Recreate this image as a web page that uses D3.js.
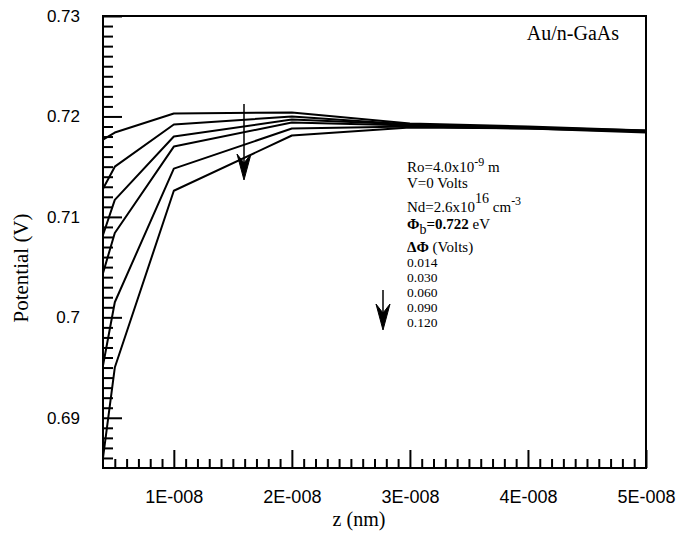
<!DOCTYPE html>
<html>
<head>
<meta charset="utf-8">
<script src="https://cdn.jsdelivr.net/npm/d3@7"></script>
<style>
  body { margin: 0; background: #fff; }
  text { fill: #000; }
</style>
</head>
<body>
<div id="chart"></div>
<script>
// data
const zValues = [4e-9, 5e-9, 1e-8, 2e-8, 3e-8, 4e-8, 5e-8];
const curve1 = [0.7177, 0.7184, 0.7203, 0.7204, 0.7193, 0.7190, 0.7186];
const curve2 = [0.7128, 0.7150, 0.7192, 0.7200, 0.7192, 0.7189, 0.7186];
const curve3 = [0.7082, 0.7117, 0.7180, 0.7197, 0.7192, 0.7189, 0.7185];
const curve4 = [0.7044, 0.7084, 0.7170, 0.7194, 0.7191, 0.7189, 0.7185];
const curve5 = [0.6952, 0.7015, 0.7148, 0.7188, 0.7190, 0.7188, 0.7185];
const curve6 = [0.6860, 0.6950, 0.7126, 0.7181, 0.7189, 0.7188, 0.7184];
const curves = [curve1, curve2, curve3, curve4, curve5, curve6];

const xTickValues = [1e-8, 2e-8, 3e-8, 4e-8, 5e-8];
const xTickLabels = ["1E-008", "2E-008", "3E-008", "4E-008", "5E-008"];
const yTickValues = [0.69, 0.70, 0.71, 0.72, 0.73];
const yTickLabels = ["0.69", "0.7", "0.71", "0.72", "0.73"];
const deltaPhi = ["0.014", "0.030", "0.060", "0.090", "0.120"];

const width = 690, height = 534;
const margin = {top: 16, right: 44, bottom: 66, left: 103};

const svg = d3.select("#chart").append("svg")
    .attr("width", width)
    .attr("height", height);

const x = d3.scaleLinear().domain([4e-9, 5e-8]).range([margin.left, width - margin.right]);
const y = d3.scaleLinear().domain([0.685, 0.73]).range([height - margin.bottom, margin.top]);

// minor ticks every 1 nm / 0.001 V
const xMinor = d3.range(5, 50).map(d => d * 1e-9).filter(d => Math.round(d * 1e9) % 10 !== 0);
const yMinor = d3.range(686, 730).filter(d => d % 10 !== 0).map(d => d / 1000);

const bottomY = height - margin.bottom;

// x minor ticks
svg.append("g")
    .attr("transform", `translate(0,${bottomY})`)
    .call(d3.axisBottom(x).tickValues(xMinor).tickSize(-9).tickFormat(""))
    .call(g => g.select(".domain").remove())
    .call(g => g.selectAll("line").attr("stroke-width", 2));

// x major ticks
svg.append("g")
    .attr("transform", `translate(0,${bottomY})`)
    .call(d3.axisBottom(x).tickValues(xTickValues).tickSize(-18)
        .tickFormat((d, i) => xTickLabels[i]).tickPadding(22))
    .call(g => g.select(".domain").remove())
    .call(g => g.selectAll("line").attr("stroke-width", 2))
    .call(g => g.selectAll("text")
        .attr("font-family", "Liberation Sans, Arial, sans-serif")
        .attr("font-size", 18)
        .attr("fill", "#000"));

// y minor ticks
svg.append("g")
    .attr("transform", `translate(${margin.left},0)`)
    .call(d3.axisLeft(y).tickValues(yMinor).tickSize(-10).tickFormat(""))
    .call(g => g.select(".domain").remove())
    .call(g => g.selectAll("line").attr("stroke-width", 2));

// y major ticks
svg.append("g")
    .attr("transform", `translate(${margin.left},0)`)
    .call(d3.axisLeft(y).tickValues(yTickValues).tickSize(-19)
        .tickFormat((d, i) => yTickLabels[i]).tickPadding(23))
    .call(g => g.select(".domain").remove())
    .call(g => g.selectAll("line").attr("stroke-width", 2))
    .call(g => g.selectAll("text")
        .attr("font-family", "Liberation Sans, Arial, sans-serif")
        .attr("font-size", 17)
        .attr("fill", "#000"));

// frame
svg.append("rect")
    .attr("x", margin.left)
    .attr("y", margin.top)
    .attr("width", width - margin.left - margin.right)
    .attr("height", height - margin.top - margin.bottom)
    .attr("fill", "none")
    .attr("stroke", "#000")
    .attr("stroke-width", 2);

// curves
const line = d3.line()
    .x((d, i) => x(zValues[i]))
    .y(d => y(d));

svg.append("g").selectAll("path")
    .data(curves)
    .join("path")
    .attr("d", line)
    .attr("fill", "none")
    .attr("stroke", "#000")
    .attr("stroke-width", 2)
    .attr("stroke-linejoin", "round");

// arrows
function arrow(x0, y0, y1) {
    const g = svg.append("g");
    g.append("line")
        .attr("x1", x0).attr("x2", x0)
        .attr("y1", y0).attr("y2", y1 - 4)
        .attr("stroke", "#000").attr("stroke-width", 1.5);
    g.append("path")
        .attr("d", `M${x0 - 7},${y1 - 26} L${x0},${y1} L${x0 + 7},${y1 - 26} L${x0},${y1 - 17} Z`)
        .attr("fill", "#000")
        .attr("stroke", "#000")
        .attr("stroke-width", 1);
}
arrow(244, 104, 180);
arrow(383, 290, 330);

// labels
const serif = "Liberation Serif, Times New Roman, serif";

svg.append("text")
    .attr("x", 619).attr("y", 40)
    .attr("text-anchor", "end")
    .attr("font-family", serif)
    .attr("font-size", 20)
    .text("Au/n-GaAs");

const note = svg.append("g")
    .attr("font-family", serif)
    .attr("font-size", 15);

let t = note.append("text").attr("x", 407).attr("y", 172);
t.append("tspan").text("Ro=4.0x10");
t.append("tspan").attr("dy", -6).attr("font-size", 12).text("-9");
t.append("tspan").attr("dy", 6).text(" m");

note.append("text").attr("x", 407).attr("y", 188).text("V=0 Volts");

t = note.append("text").attr("x", 407).attr("y", 212);
t.append("tspan").text("Nd=2.6x10");
t.append("tspan").attr("dy", -9).attr("font-size", 14).text("16");
t.append("tspan").attr("dy", 9).text(" cm");
t.append("tspan").attr("dy", -7).attr("font-size", 12).text("-3");

t = note.append("text").attr("x", 407).attr("y", 229);
t.append("tspan").attr("font-weight", "bold").text("\u03A6");
t.append("tspan").attr("dy", 5).attr("font-size", 14).text("b");
t.append("tspan").attr("dy", -5).attr("font-weight", "bold").text("=0.722");
t.append("tspan").text(" eV");

t = note.append("text").attr("x", 407).attr("y", 252);
t.append("tspan").attr("font-weight", "bold").text("\u0394\u03A6");
t.append("tspan").text(" (Volts)");

note.selectAll(".dphi")
    .data(deltaPhi)
    .join("text")
    .attr("class", "dphi")
    .attr("x", 407)
    .attr("y", (d, i) => 267 + i * 15)
    .attr("font-size", 13.5)
    .text(d => d);

svg.append("text")
    .attr("x", 359)
    .attr("y", 526)
    .attr("text-anchor", "middle")
    .attr("font-family", serif)
    .attr("font-size", 20)
    .text("z (nm)");

svg.append("text")
    .attr("transform", "translate(28,268) rotate(-90)")
    .attr("text-anchor", "middle")
    .attr("font-family", serif)
    .attr("font-size", 21)
    .text("Potential (V)");
</script>
</body>
</html>
